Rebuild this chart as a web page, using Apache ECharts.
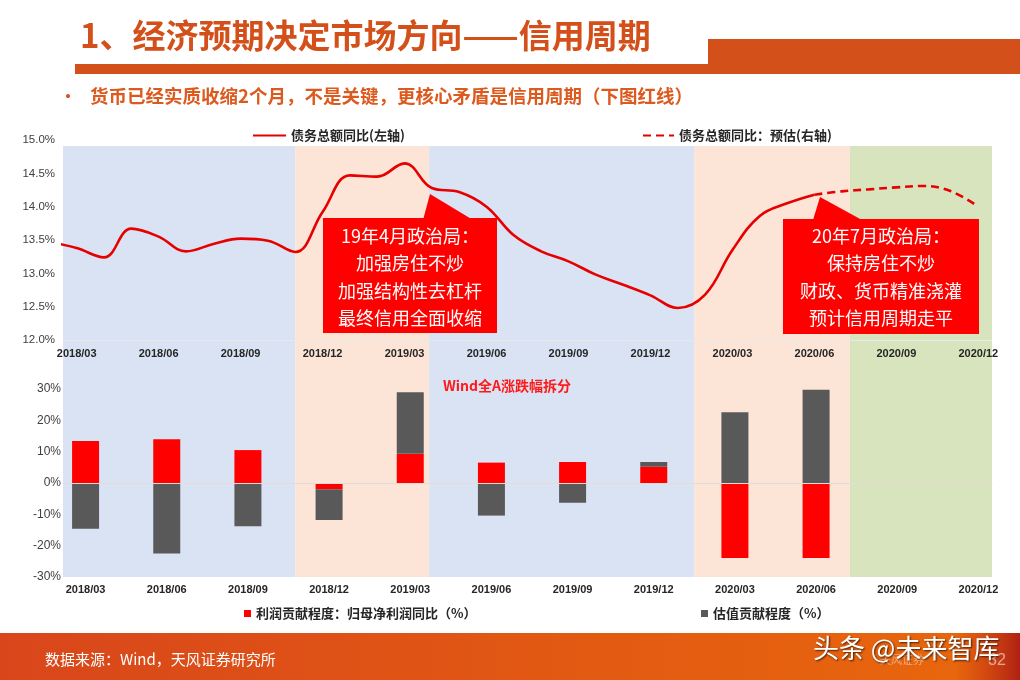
<!DOCTYPE html>
<html>
<head>
<meta charset="utf-8">
<script src="https://cdn.jsdelivr.net/npm/echarts@6/dist/echarts.min.js"></script>
<style>
  html, body { margin: 0; padding: 0; background: #fff; }
  #chart { width: 1020px; height: 680px; }
</style>
</head>
<body>
<div id="chart"></div>
<script>
// quarter tick labels shared by both panels
const quarters = ['2018/03', '2018/06', '2018/09', '2018/12', '2019/03', '2019/06',
  '2019/09', '2019/12', '2020/03', '2020/06', '2020/09', '2020/12'];

// debt growth yoy (%), monthly, left axis
const debtMonths = ['2018/02', '2018/03', '2018/04', '2018/05', '2018/06', '2018/07', '2018/08',
  '2018/09', '2018/10', '2018/11', '2018/12', '2019/01', '2019/02', '2019/03', '2019/04',
  '2019/05', '2019/06', '2019/07', '2019/08', '2019/09', '2019/10', '2019/11', '2019/12',
  '2020/01', '2020/02', '2020/03', '2020/04', '2020/05', '2020/06'];
const debtYoY = [13.47, 13.38, 13.24, 13.67, 13.55, 13.33, 13.44,
  13.52, 13.49, 13.32, 13.92, 14.47, 14.45, 14.65, 14.28,
  14.22, 14.00, 13.57, 13.33, 13.18, 12.98, 12.83, 12.67,
  12.48, 12.68, 13.35, 13.86, 14.05, 14.18];

// forecast (dashed)
const forecastMonths = ['2020/06', '2020/07', '2020/08', '2020/09', '2020/10', '2020/11', '2020/12'];
const forecastYoY = [14.18, 14.23, 14.26, 14.29, 14.31, 14.23, 14.00];

// Wind All-A return decomposition (%), quarterly
const profitContrib = [13.4, 14.0, 10.5, -2.0, 9.3, 6.5, 6.7, 5.2, -23.9, -23.9, null, null];
const valuationContrib = [-14.6, -22.5, -13.8, -9.8, 19.7, -10.4, -6.3, 1.5, 22.6, 29.8, null, null];

// background phases, in months from 2018/03
const phaseBreaks = [0, 8.5, 13.4, 23.1, 28.8, 34];
const phaseKinds = ['tight', 'loose', 'tight', 'loose', 'flat'];

const phaseColor = { tight: '#dae3f3', loose: '#fce5d6', flat: '#d8e4bd' };
const NUM = '"Liberation Sans", "Noto Sans CJK SC", sans-serif';
const CN = '"Noto Sans CJK SC", sans-serif';

function monthPos(label) {
  const [y, m] = label.split('/').map(Number);
  return (y - 2018) * 12 + (m - 3) + 0.5;
}
function monthRange(from, to) {
  const out = [];
  let [y, m] = from.split('/').map(Number);
  const [ty, tm] = to.split('/').map(Number);
  while (y < ty || (y === ty && m <= tm)) {
    out.push(y + '/' + String(m).padStart(2, '0'));
    m++; if (m > 12) { m = 1; y++; }
  }
  return out;
}
const axisMonths = monthRange('2018/03', '2020/12');

const phaseData = phaseKinds.map((k, i) => [phaseBreaks[i], phaseBreaks[i + 1], k]);
const debtData = debtMonths.map((mth, i) => [monthPos(mth), debtYoY[i]]);
const forecastData = forecastMonths.map((mth, i) => [monthPos(mth), forecastYoY[i]]);

const xLabel = { fontSize: 11, fontWeight: 'bold', color: '#262626', fontFamily: NUM };
const legendText = { fontSize: 13, fontWeight: 'bold', color: '#262626', fontFamily: CN };

const chart = echarts.init(document.getElementById('chart'));

const option = {
  animation: false,
  textStyle: { fontFamily: NUM },
  grid: [
    { left: 63, right: 28, top: 146, height: 431 },   // shading
    { left: 63, right: 28, top: 140, height: 200 },   // line
    { left: 45, right: 1, top: 389, height: 188 },    // bars
    { left: 63, right: 28, top: 389, height: 188 }    // bottom y axis
  ],
  xAxis: [
    { gridIndex: 0, type: 'value', min: 0, max: 34, show: false },
    { gridIndex: 1, type: 'value', min: 0, max: 34, show: false, position: 'top' },
    {
      gridIndex: 1, type: 'category', data: axisMonths, z: 5, position: 'bottom',
      axisLine: { lineStyle: { color: '#e8e8e8' } },
      axisTick: { show: false },
      axisLabel: Object.assign({ interval: 2, margin: 8 }, xLabel)
    },
    {
      gridIndex: 2, type: 'category', data: quarters, z: 5, position: 'bottom',
      axisLine: { show: false }, axisTick: { show: false },
      axisLabel: Object.assign({ interval: 0, margin: 7 }, xLabel)
    },
    {
      gridIndex: 3, type: 'value', min: 0, max: 34, z: 5,
      axisLabel: { show: false }, axisTick: { show: false }, splitLine: { show: false },
      axisLine: { onZero: true, lineStyle: { color: '#e4dcd6' } }
    }
  ],
  yAxis: [
    { gridIndex: 0, type: 'value', min: 0, max: 1, show: false },
    {
      gridIndex: 1, type: 'value', min: 12, max: 15, interval: 0.5, z: 5,
      splitLine: { show: false }, axisLine: { show: false }, axisTick: { show: false },
      axisLabel: { formatter: v => v.toFixed(1) + '%', fontSize: 11.5, color: '#404040', margin: 8 }
    },
    { gridIndex: 2, type: 'value', min: -30, max: 30, show: false },
    {
      gridIndex: 3, type: 'value', min: -30, max: 30, interval: 10, z: 5,
      splitLine: { show: false }, axisLine: { show: false }, axisTick: { show: false },
      axisLabel: { formatter: v => v + '%', fontSize: 12, color: '#404040', margin: 2 }
    }
  ],
  legend: [
    { data: ['债务总额同比(左轴)'], left: 247, top: 124, itemWidth: 33, itemHeight: 14, itemStyle: { opacity: 0 }, textStyle: legendText },
    { data: ['债务总额同比：预估(右轴)'], left: 637, top: 124, itemWidth: 31, itemHeight: 14, itemStyle: { opacity: 0 }, textStyle: legendText },
    { data: ['利润贡献程度：归母净利润同比（%）'], left: 239, top: 602, icon: 'rect', itemWidth: 7, itemHeight: 7, itemGap: 0, textStyle: legendText },
    { data: ['估值贡献程度（%）'], left: 696, top: 602, icon: 'rect', itemWidth: 7, itemHeight: 7, itemGap: 0, textStyle: legendText }
  ],
  series: [
    {
      type: 'custom', xAxisIndex: 0, yAxisIndex: 0, z: -1, silent: true,
      data: phaseData,
      encode: { x: [0, 1] },
      renderItem: function (params, api) {
        const a = api.coord([api.value(0), 1]);
        const b = api.coord([api.value(1), 0]);
        return {
          type: 'rect',
          shape: { x: a[0], y: a[1], width: b[0] - a[0], height: b[1] - a[1] },
          style: { fill: phaseColor[phaseData[params.dataIndex][2]] }
        };
      }
    },
    {
      name: '债务总额同比(左轴)', type: 'line', xAxisIndex: 1, yAxisIndex: 1,
      data: debtData, smooth: 0.4, symbol: 'none', z: 3,
      lineStyle: { color: '#e60000', width: 2.6 }, itemStyle: { color: '#e60000' }
    },
    {
      name: '债务总额同比：预估(右轴)', type: 'line', xAxisIndex: 1, yAxisIndex: 1,
      data: forecastData, smooth: 0.4, symbol: 'none', z: 3,
      lineStyle: { color: '#e60000', width: 2.6, type: [8, 5] }, itemStyle: { color: '#e60000' }
    },
    {
      name: '利润贡献程度：归母净利润同比（%）', type: 'bar', xAxisIndex: 3, yAxisIndex: 2,
      stack: 'wind', data: profitContrib, barWidth: 27, z: 3,
      itemStyle: { color: '#ff0000' }
    },
    {
      name: '估值贡献程度（%）', type: 'bar', xAxisIndex: 3, yAxisIndex: 2,
      stack: 'wind', data: valuationContrib, barWidth: 27, z: 3,
      itemStyle: { color: '#595959' }
    }
  ],
  graphic: [
    // header
    { type: 'text', left: 80, top: 19, z: 10, style: { text: '1、经济预期决定市场方向——信用周期', fill: '#d4501a', font: 'bold 33px "Noto Sans CJK SC"' } },
    { type: 'rect', z: 10, shape: { x: 75, y: 64, width: 640, height: 10 }, style: { fill: '#d4501a' } },
    { type: 'rect', z: 10, shape: { x: 708, y: 39, width: 312, height: 35 }, style: { fill: '#d4501a' } },
    { type: 'text', left: 60, top: 88, z: 10, style: { text: '•', fill: '#d9531e', font: 'bold 16px "Noto Sans CJK SC"' } },
    { type: 'text', left: 90, top: 87, z: 10, style: { text: '货币已经实质收缩2个月，不是关键，更核心矛盾是信用周期（下图红线）', fill: '#dd5a1e', font: 'bold 18.5px "Noto Sans CJK SC"' } },
    // callouts
    { type: 'polygon', z: 20, shape: { points: [[430, 194], [423, 220], [473, 220]] }, style: { fill: '#ff0000' } },
    { type: 'rect', z: 20, shape: { x: 323, y: 218, width: 174, height: 115 }, style: { fill: '#ff0000' } },
    { type: 'text', z: 21, style: { x: 410, y: 277, text: '19年4月政治局：\n加强房住不炒\n加强结构性去杠杆\n最终信用全面收缩', fill: '#fff', font: '18px "Noto Sans CJK SC"', align: 'center', verticalAlign: 'middle', lineHeight: 27.5 } },
    { type: 'polygon', z: 20, shape: { points: [[820, 197], [813, 220], [862, 220]] }, style: { fill: '#ff0000' } },
    { type: 'rect', z: 20, shape: { x: 783, y: 219, width: 196, height: 115 }, style: { fill: '#ff0000' } },
    { type: 'text', z: 21, style: { x: 881, y: 277, text: '20年7月政治局：\n保持房住不炒\n财政、货币精准浇灌\n预计信用周期走平', fill: '#fff', font: '18px "Noto Sans CJK SC"', align: 'center', verticalAlign: 'middle', lineHeight: 27.5 } },
    { type: 'text', z: 20, style: { x: 443, y: 386, text: 'Wind全A涨跌幅拆分', fill: '#ff1a1a', font: 'bold 14px "Noto Sans CJK SC"', verticalAlign: 'middle' } },
    // footer
    {
      type: 'rect', z: 10, shape: { x: 0, y: 633, width: 1020, height: 47 },
      style: { fill: { type: 'linear', x: 0, y: 0, x2: 1, y2: 0, colorStops: [{ offset: 0, color: '#d9461b' }, { offset: 1, color: '#e9680c' }] } }
    },
    {
      type: 'rect', z: 11, shape: { x: 955, y: 633, width: 65, height: 47 },
      style: { fill: { type: 'linear', x: 0, y: 0, x2: 1, y2: 0, colorStops: [{ offset: 0, color: 'rgba(190,40,20,0)' }, { offset: 1, color: 'rgba(170,25,20,0.9)' }] } }
    },
    { type: 'text', z: 12, style: { x: 45, y: 659, text: '数据来源：Wind，天风证券研究所', fill: '#fff', font: '15px "Noto Sans CJK SC"', verticalAlign: 'middle' } },
    { type: 'text', z: 12, style: { x: 880, y: 660, text: '天风证券', fill: 'rgba(255,255,255,0.45)', font: '11px "Noto Sans CJK SC"', verticalAlign: 'middle' } },
    { type: 'text', z: 12, style: { x: 988, y: 661, text: '32', fill: 'rgba(255,255,255,0.55)', font: '16px "Liberation Sans"', verticalAlign: 'middle' } },
    {
      type: 'text', z: 13, style: {
        x: 813, y: 648, text: '头条 @未来智库', fill: '#fff', font: '26px "Noto Sans CJK SC"', verticalAlign: 'middle',
        textShadowColor: 'rgba(0,0,0,0.7)', textShadowBlur: 2, textShadowOffsetX: 1, textShadowOffsetY: 1
      }
    }
  ]
};

chart.setOption(option);
</script>
</body>
</html>
